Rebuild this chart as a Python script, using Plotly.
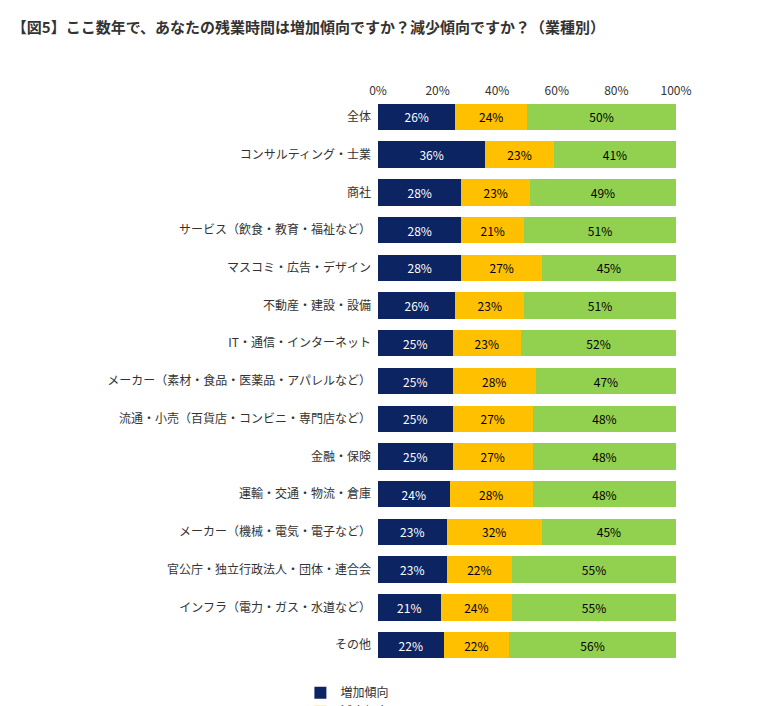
import plotly.graph_objects as go

categories = ["全体", "コンサルティング・士業", "商社", "サービス（飲食・教育・福祉など）",
              "マスコミ・広告・デザイン", "不動産・建設・設備", "IT・通信・インターネット",
              "メーカー（素材・食品・医薬品・アパレルなど）", "流通・小売（百貨店・コンビニ・専門店など）",
              "金融・保険", "運輸・交通・物流・倉庫", "メーカー（機械・電気・電子など）",
              "官公庁・独立行政法人・団体・連合会", "インフラ（電力・ガス・水道など）", "その他"]
increase = [26, 36, 28, 28, 28, 26, 25, 25, 25, 25, 24, 23, 23, 21, 22]
decrease = [24, 23, 23, 21, 27, 23, 23, 28, 27, 27, 28, 32, 22, 24, 22]
same = [50, 41, 49, 51, 45, 51, 52, 47, 48, 48, 48, 45, 55, 55, 56]

series = [("増加傾向", increase, "#0c2461", "white"),
          ("減少傾向", decrease, "#ffc000", "black"),
          ("変わらない", same, "#92d050", "black")]

font = "Noto Sans CJK JP"
fig = go.Figure()
for name, vals, color, tcolor in series:
    fig.add_trace(go.Bar(
        y=categories, x=vals, name=name, orientation="h",
        marker=dict(color=color, line=dict(width=0)),
        text=[f"{v}%" for v in vals], textposition="inside",
        insidetextanchor="middle", textangle=0,
        textfont=dict(color=tcolor, size=12, family=font),
    ))

fig.update_layout(
    barmode="stack", bargap=0.3,
    width=757, height=706,
    margin=dict(l=370, r=89, t=90, b=50, autoexpand=False),
    plot_bgcolor="white", paper_bgcolor="white",
    font=dict(family=font, size=12, color="#333"),
    title=dict(text="<b>【図5】ここ数年で、あなたの残業時間は増加傾向ですか？減少傾向ですか？（業種別）</b>",
               x=0.005, xanchor="left", y=0.972, yanchor="middle",
               font=dict(size=15, color="#333", family=font)),
    xaxis=dict(range=[0, 100], side="top", tickvals=[0, 20, 40, 60, 80, 100],
               ticktext=["0%", "20%", "40%", "60%", "80%", "100%"],
               showgrid=False, zeroline=False, showline=False, fixedrange=True,
               automargin=False),
    yaxis=dict(autorange="reversed", showgrid=False, ticks="", ticklen=0,
               automargin=False, ticklabelstandoff=6),
    legend=dict(orientation="h", traceorder="normal", x=0.05, xanchor="center",
                y=-0.025, yanchor="top", font=dict(size=12),
                entrywidth=140, entrywidthmode="pixels", itemwidth=30),
    uniformtext=dict(minsize=10, mode="show"),
)

fig.write_html("out.html")
